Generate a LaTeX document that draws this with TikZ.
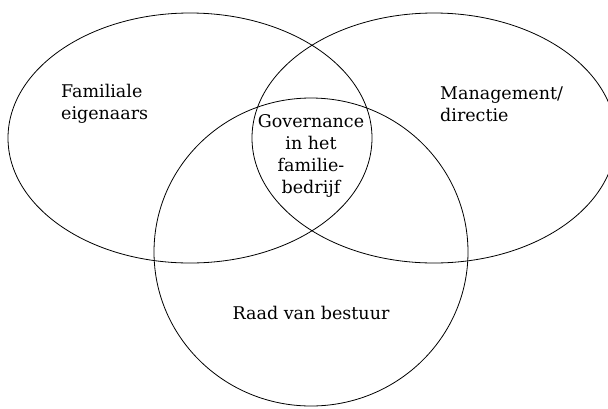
\documentclass[tikz,border=0pt]{standalone}
\usepackage{fontspec}
\setmainfont{DejaVu Serif}
\begin{document}
\begin{tikzpicture}[x=1pt,y=-1pt,
  ring/.style={draw=black,line width=0.8pt},
  lbl/.style={font=\fontsize{17.5}{22}\selectfont,inner sep=0pt}]
\useasboundingbox (0,0) rectangle (608,408);
\clip (0,0) rectangle (608,408);
\draw[ring] (190,138) ellipse [x radius=182, y radius=125];
\draw[ring] (434,138) ellipse [x radius=182, y radius=125];
\draw[ring] (311,252) ellipse [x radius=157, y radius=154];
\node[lbl,anchor=west,align=left] (fam) at (61,104) {Familiale\\eigenaars};
\node[lbl,anchor=west,align=left] (man) at (440,104) {Management/\\directie};
\node[lbl,align=center] (gov) at (311,156) {Governance\\in het\\familie-\\bedrijf};
\node[lbl] (raad) at (311,313) {Raad van bestuur};
\end{tikzpicture}
\end{document}
